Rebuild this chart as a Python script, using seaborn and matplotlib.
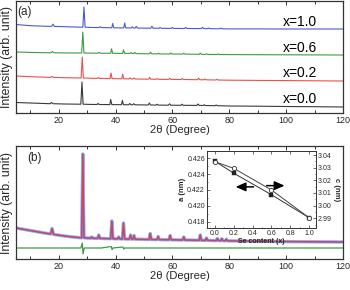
import matplotlib
matplotlib.use('Agg')
import matplotlib.pyplot as plt
import seaborn as sns
from matplotlib.ticker import MultipleLocator

sns.set_theme(style='ticks')
plt.rcParams['font.family'] = ['Liberation Sans', 'DejaVu Sans']

# ---------------- data: panel (a) ----------------
x00 = [5, 10, 15, 17.0, 17.5, 18.0, 22, 27.8, 28.2, 28.6, 31, 33.5, 33.9, 34.3, 38.0, 38.3, 38.7,
       42.1, 42.4, 42.8, 44.6, 45.0, 45.4, 46.0, 46.4, 46.8, 51.5, 51.9, 52.3, 54.2, 54.6, 55.0,
       58.6, 59.0, 59.4, 63.0, 63.4, 63.8, 68.6, 69.0, 69.4, 70.8, 71.2, 71.6, 75.0, 75.4, 75.8,
       80, 90, 100, 110, 120]
y00 = [10.5, 10, 9.5, 9.3, 10.5, 9.3, 9, 8.8, 31, 8.8, 8.6, 8.5, 9.5, 8.5, 8.4, 13.5, 8.4,
       8.3, 12.5, 8.3, 8.2, 9.5, 8.2, 8.2, 9.3, 8.2, 8.0, 10, 8.0, 7.9, 8.8, 7.9,
       7.8, 9.2, 7.8, 7.7, 8.8, 7.7, 7.6, 9, 7.6, 7.5, 8.3, 7.5, 7.3, 8, 7.3,
       7, 6.8, 6.5, 6.3, 6]

x02 = [5, 10, 15, 17.1, 17.6, 18.1, 22, 27.9, 28.3, 28.7, 31, 33.6, 34.0, 34.4, 38.1, 38.4, 38.8,
       42.2, 42.5, 42.9, 44.7, 45.1, 45.5, 46.1, 46.5, 46.9, 51.6, 52.0, 52.4, 54.3, 54.7, 55.1,
       58.7, 59.1, 59.5, 63.1, 63.5, 63.9, 68.8, 69.2, 69.6, 71.0, 71.4, 71.8, 75.2, 75.6, 76.0,
       80, 90, 100, 110, 120]
y02 = [37, 36.3, 35.8, 35.6, 36.6, 35.6, 35.3, 35, 56, 35, 34.8, 34.6, 35.4, 34.6, 34.4, 40, 34.4,
       34.2, 38.7, 34.2, 34.1, 35.2, 34.1, 34.0, 35, 34.0, 33.8, 35.6, 33.8, 33.7, 34.5, 33.7,
       33.6, 34.8, 33.6, 33.5, 34.5, 33.5, 33.3, 34.8, 33.3, 33.2, 34, 33.2, 33, 33.7, 33,
       32.8, 32.6, 32.4, 32.2, 32]

x06 = [5, 10, 15, 17.3, 17.8, 18.3, 22, 28.1, 28.5, 28.9, 31, 33.8, 34.2, 34.6, 38.3, 38.6, 39.0,
       42.5, 42.8, 43.2, 45.0, 45.4, 45.8, 46.4, 46.8, 47.2, 51.9, 52.3, 52.7, 54.7, 55.1, 55.5,
       59.0, 59.4, 59.8, 63.6, 64.0, 64.4, 69.4, 69.8, 70.2, 71.6, 72.0, 72.4, 75.8, 76.2, 76.6,
       80, 90, 100, 110, 120]
y06 = [61, 60.6, 60.3, 60.2, 61.5, 60.2, 60.1, 60, 81, 60, 59.9, 59.8, 60.6, 59.8, 59.7, 64.2, 59.7,
       59.6, 63.2, 59.6, 59.5, 60.5, 59.5, 59.4, 60.6, 59.4, 59.2, 60.8, 59.2, 59.1, 59.8, 59.1,
       59.0, 60.0, 59.0, 58.9, 59.8, 58.9, 58.7, 59.8, 58.7, 58.6, 59.3, 58.6, 58.5, 59.1, 58.5,
       58.4, 58.3, 58.2, 58.1, 58]

x10 = [5, 10, 15, 17.5, 18.0, 18.5, 22, 28.5, 28.9, 29.3, 31, 34.2, 34.6, 35.0, 38.7, 39.0, 39.4,
       42.9, 43.2, 43.6, 45.5, 45.9, 46.3, 46.9, 47.3, 47.7, 52.4, 52.8, 53.2, 55.3, 55.7, 56.1,
       59.6, 60.0, 60.4, 64.3, 64.7, 65.1, 70.2, 70.6, 71.0, 72.4, 72.8, 73.2, 76.6, 77.0, 77.4,
       80, 90, 100, 110, 120]
y10 = [88.5, 87.3, 86.8, 86.6, 88.8, 86.6, 86.3, 85.8, 106, 85.8, 85.6, 85.4, 86.3, 85.4, 85.2, 89.5, 85.2,
       85.1, 90, 85.1, 85.0, 86.2, 85.0, 84.9, 86.6, 84.9, 84.8, 86.8, 84.8, 84.7, 85.5, 84.7,
       84.6, 85.6, 84.6, 84.5, 85.6, 84.5, 84.4, 85.8, 84.4, 84.3, 85.0, 84.3, 84.2, 84.9, 84.2,
       84.1, 84.1, 84.0, 84.0, 84.0]

comp_labels = ['x=1.0', 'x=0.6', 'x=0.2', 'x=0.0']

# ---------------- data: panel (b) ----------------
xb = [5, 8, 10, 13, 15, 17.2, 17.7, 18.2, 22, 25, 28.1, 28.5, 28.9, 31.2, 31.6, 32.0, 33.7, 34.1, 34.5,
      38.3, 38.7, 39.1, 40.7, 41.1, 41.5, 42.4, 42.8, 43.2, 44.9, 45.3, 45.7, 46.1, 46.5, 46.9,
      51.8, 52.2, 52.6, 54.6, 55.0, 55.4, 58.8, 59.2, 59.6, 63.6, 64.0, 64.4, 69.4, 69.8, 70.2,
      71.6, 72.0, 72.4, 75.4, 75.8, 76.2, 77.0, 77.4, 77.8, 78.6, 79.0, 79.4, 85, 90, 100, 110, 120]
yb = [31, 29.5, 28.5, 27, 26, 25, 30.5, 24.6, 23, 22, 21.2, 105, 21.2, 20.8, 22, 20.8, 20.6, 24, 20.6,
      20.3, 38, 20.3, 20.1, 22, 20.1, 20, 36, 20, 19.9, 24, 19.9, 19.8, 23.5, 19.8,
      19.5, 25.5, 19.5, 19.4, 22.5, 19.4, 19.2, 23.5, 19.2, 19.0, 22, 19.0, 18.7, 24, 18.7,
      18.6, 21, 18.6, 18.4, 20.5, 18.4, 18.3, 20.3, 18.3, 18.2, 19.8, 18.2, 17.9, 17.7, 17.4, 17.2, 17]

xd = [5, 20, 27.8, 28.3, 28.6, 29.0, 35, 38.5, 38.8, 39.1, 42.6, 42.9, 43.2, 60, 90, 120]
yd = [11, 11, 11, 16, 5, 11, 11, 12.5, 9.5, 11, 12, 10, 11, 11, 11, 11]

# ---------------- data: inset ----------------
se = [0.0, 0.2, 0.6, 1.0]
a_nm = [0.4256, 0.4241, 0.4214, 0.4185]
c_nm = [3.0347, 3.0295, 3.0124, 2.9905]

W, H = 350, 290
fig = plt.figure(figsize=(W / 100, H / 100), dpi=100)
fig.patch.set_facecolor('white')

BLUE = '#4a5ad0'
GREEN = '#3e9a44'
RED = '#ef4e4a'
BLACK = '#3a3a3a'

def style_main(ax):
    ax.set_xlim(5, 120)
    ax.xaxis.set_major_locator(MultipleLocator(20))
    ax.xaxis.set_minor_locator(MultipleLocator(10))
    ax.tick_params(axis='x', which='both', direction='in', top=True, bottom=True,
                   labelsize=6.5, pad=2, width=0.7, color='#333333')
    ax.tick_params(axis='x', which='major', length=3)
    ax.tick_params(axis='x', which='minor', length=2)
    ax.set_yticks([])
    for s in ax.spines.values():
        s.set_linewidth(0.9)
        s.set_color('#333333')
    ax.set_xlabel('2θ (Degree)', fontsize=8, labelpad=0.5)
    ax.set_ylabel('Intensity (arb. unit)', fontsize=8.8, labelpad=2)
    ax.set_facecolor('white')

# panel (a)
ax1 = fig.add_axes([16 / W, 1 - 113 / H, 327 / W, 112 / H])
for xs, ys, col in [(x00, y00, BLACK), (x02, y02, RED), (x06, y06, GREEN), (x10, y10, BLUE)]:
    sns.lineplot(x=xs, y=ys, ax=ax1, color=col, linewidth=0.8, sort=False, estimator=None)
ax1.set_ylim(0, 112)
style_main(ax1)
for lab, yy in zip(comp_labels, [91, 65, 40, 14]):
    ax1.text(104.9, yy, lab, fontsize=10, ha='center', va='center', color='black')
ax1.text(5.6, 101, '(a)', fontsize=8.5, ha='left', va='center')

# panel (b)
ax2 = fig.add_axes([16 / W, 1 - 259 / H, 327 / W, 113 / H])
sns.lineplot(x=xb, y=yb, ax=ax2, color='#7080e6', linewidth=2.4, alpha=0.7, sort=False, estimator=None)
sns.lineplot(x=xb, y=yb, ax=ax2, color='#2f3fbf', linewidth=1.0, alpha=0.6, sort=False, estimator=None)
sns.lineplot(x=xb, y=yb, ax=ax2, color='#e8403a', linewidth=0.7, sort=False, estimator=None)
sns.lineplot(x=xd, y=yd, ax=ax2, color=GREEN, linewidth=0.9, sort=False, estimator=None)
ax2.set_ylim(0, 113)
style_main(ax2)
ax2.text(8.9, 101, '(b)', fontsize=8.5, ha='left', va='center')

# inset
axi = fig.add_axes([207 / W, 1 - 228 / H, 109 / W, 77 / H])
axi.set_facecolor('white')
axc = axi.twinx()

sns.lineplot(x=se, y=a_nm, ax=axi, color='#333333', linewidth=0.7, sort=False, estimator=None)
sns.scatterplot(x=se, y=a_nm, ax=axi, marker='s', s=7, color='#222222', edgecolor='#222222',
                linewidth=0.3, zorder=3)
sns.lineplot(x=se, y=c_nm, ax=axc, color='#444444', linewidth=0.7, sort=False, estimator=None)
sns.scatterplot(x=se, y=c_nm, ax=axc, marker='o', s=9, facecolor='white', edgecolor='#333333',
                linewidth=0.6, zorder=3)

axi.set_xlim(-0.085, 1.075)
axi.set_ylim(0.4172, 0.4269)
axi.set_xticks([0.0, 0.2, 0.4, 0.6, 0.8, 1.0])
axi.set_xticklabels(['0.0', '0.2', '0.4', '0.6', '0.8', '1.0'])
axi.set_yticks([0.418, 0.420, 0.422, 0.424, 0.426])
axi.set_yticklabels(['0.418', '0.420', '0.422', '0.424', '0.426'])
axi.xaxis.set_minor_locator(MultipleLocator(0.1))
axi.yaxis.set_minor_locator(MultipleLocator(0.001))
axi.tick_params(which='both', direction='in', labelsize=5, pad=1.5, width=0.5, color='#333333')
axi.tick_params(which='major', length=2)
axi.tick_params(which='minor', length=1)
axi.tick_params(axis='x', top=True)
axi.set_xlabel('Se content (x)', fontsize=5, fontweight='bold', labelpad=1)
axi.set_ylabel('a (nm)', fontsize=5.5, fontweight='bold', labelpad=1)
for s in axi.spines.values():
    s.set_linewidth(0.6)
    s.set_color('#333333')

axc.set_ylim(2.9823, 3.0432)
axc.set_yticks([2.99, 3.00, 3.01, 3.02, 3.03, 3.04])
axc.set_yticklabels(['2.99', '3.00', '3.01', '3.02', '3.03', '3.04'])
axc.yaxis.set_minor_locator(MultipleLocator(0.005))
axc.tick_params(which='both', direction='in', labelsize=5, pad=1.5, width=0.5, color='#333333')
axc.tick_params(which='major', length=2)
axc.tick_params(which='minor', length=1)
axc.set_ylabel('c (nm)', fontsize=5.5, fontweight='bold', rotation=270, labelpad=6)
axc.set_xlabel('')
for s in axc.spines.values():
    s.set_linewidth(0.6)
    s.set_color('#333333')

axi.annotate('', xy=(0.19, 0.42238), xytext=(0.44, 0.42238),
             arrowprops=dict(arrowstyle='-|>,head_length=0.5,head_width=0.22', color='black', lw=1.1))
axc.annotate('', xy=(0.77, 3.0158), xytext=(0.52, 3.0158),
             arrowprops=dict(arrowstyle='-|>,head_length=0.5,head_width=0.22', color='black', lw=1.1))

fig.savefig('out.png', dpi=100, facecolor='white')
